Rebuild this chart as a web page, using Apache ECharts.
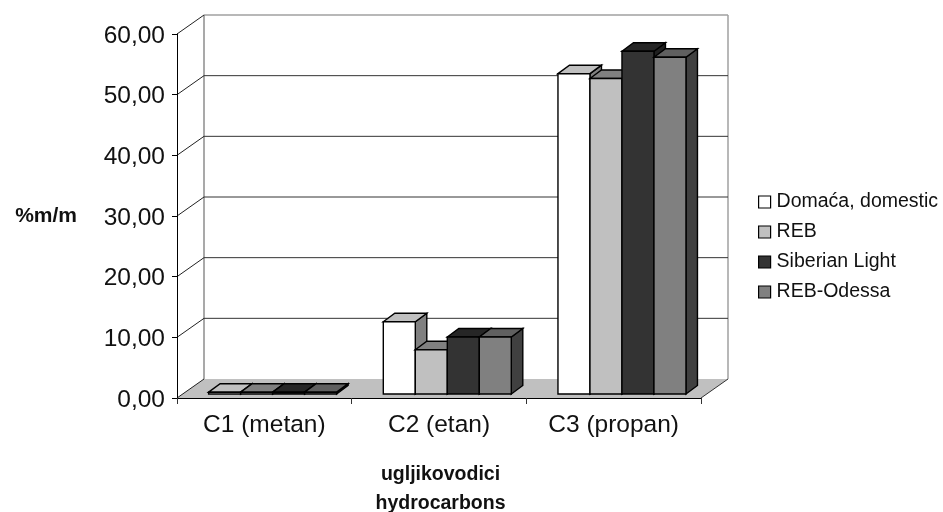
<!DOCTYPE html>
<html><head><meta charset="utf-8">
<style>html,body{margin:0;padding:0;background:#fff}#c{width:943px;height:512px}</style>
<script src="https://cdn.jsdelivr.net/npm/echarts@6/dist/echarts.min.js"></script>
</head><body><div id="c"></div>
<script>
var categories = ['C1 (metan)', 'C2 (etan)', 'C3 (propan)'];
var domestic = [0.3, 11.9, 52.8];
var reb = [0.3, 7.3, 52.0];
var siberian = [0.3, 9.4, 56.5];
var odessa = [0.3, 9.4, 55.5];
var seriesNames = ['Domaća, domestic', 'REB', 'Siberian Light', 'REB-Odessa'];
var yTicks = [0, 10, 20, 30, 40, 50, 60];
var frontColors = ['#ffffff', '#c0c0c0', '#333333', '#808080'];
var topColors = ['#c0c0c0', '#808080', '#262626', '#606060'];
var sideColors = ['#808080', '#606060', '#1f1f1f', '#404040'];
var WALL = {dx: 27, dy: -19};
var BAR = {w: 32, dx: 11.5, dy: -8.5, baseDy: -4, shift: 8.3};
var FONT = '"Liberation Sans", Arial, sans-serif';

var chart = echarts.init(document.getElementById('c'), null, {renderer: 'canvas'});

function poly(pts, fill, stroke, lw) {
  return {type: 'polygon', shape: {points: pts}, silent: true,
    style: {fill: fill, stroke: stroke || 'none', lineWidth: lw || 0, lineJoin: 'miter'}};
}
function line(p, q, stroke, lw) {
  return {type: 'line', shape: {x1: p[0], y1: p[1], x2: q[0], y2: q[1]}, silent: true,
    style: {stroke: stroke, lineWidth: lw}};
}
function renderWalls(params, api) {
  var cs = params.coordSys;
  var L = cs.x, R = cs.x + cs.width;
  var y0 = api.coord([0, 0])[1], yT = api.coord([0, 60])[1];
  var d = WALL;
  return {type: 'group', children: [
    poly([[L + d.dx, yT + d.dy], [R + d.dx, yT + d.dy], [R + d.dx, y0 + d.dy], [L + d.dx, y0 + d.dy]], '#ffffff'),
    poly([[L, y0], [L + d.dx, y0 + d.dy], [R + d.dx, y0 + d.dy], [R, y0]], '#c0c0c0'),
    line([L + d.dx, yT + d.dy], [R + d.dx, yT + d.dy], '#a0a0a0', 1.5),
    line([R + d.dx, yT + d.dy], [R + d.dx, y0 + d.dy], '#a0a0a0', 1.5),
    line([L + d.dx, yT + d.dy], [L + d.dx, y0 + d.dy], '#707070', 1.2),
    line([R, y0], [R + d.dx, y0 + d.dy], '#333333', 1)
  ]};
}
function renderGrid(params, api) {
  var cs = params.coordSys;
  var L = cs.x, R = cs.x + cs.width;
  var y = api.coord([0, api.value(0)])[1];
  var d = WALL;
  var items = [line([L, y], [L + d.dx, y + d.dy], '#222222', 1)];
  if (api.value(0) > 0 && api.value(0) < 60) {
    items.push(line([L + d.dx, y + d.dy], [R + d.dx, y + d.dy], '#333333', 1));
  }
  return {type: 'group', children: items};
}
function renderBar(si) {
  return function (params, api) {
    var c = api.coord([api.value(0), 0]);
    var top = api.coord([api.value(0), api.value(1)]);
    var b = BAR;
    var x0 = c[0] + b.shift + (si - 2) * b.w, x1 = x0 + b.w;
    var yb = c[1] + b.baseDy, yt = top[1] + b.baseDy;
    var st = '#000000', lw = 1.4;
    return {type: 'group', children: [
      poly([[x1, yb], [x1 + b.dx, yb + b.dy], [x1 + b.dx, yt + b.dy], [x1, yt]], sideColors[si], st, lw),
      poly([[x0, yt], [x0 + b.dx, yt + b.dy], [x1 + b.dx, yt + b.dy], [x1, yt]], topColors[si], st, lw),
      poly([[x0, yb], [x1, yb], [x1, yt], [x0, yt]], frontColors[si], st, lw)
    ]};
  };
}
function barSeries(si, values) {
  return {
    type: 'custom', name: seriesNames[si], coordinateSystem: 'cartesian2d', z: 5 + si,
    itemStyle: {color: frontColors[si]}, renderItem: renderBar(si), clip: false, silent: true,
    encode: {x: 0, y: 1},
    data: values.map(function (v, i) { return [i, v]; })
  };
}

chart.setOption({
  animation: false,
  backgroundColor: '#ffffff',
  textStyle: {fontFamily: FONT},
  grid: {left: 177, right: 242, top: 34, bottom: 114, containLabel: false, outerBoundsMode: 'none'},
  legend: {
    data: seriesNames, orient: 'vertical', left: 758, top: 192, itemWidth: 12, itemHeight: 12, itemGap: 10,
    icon: 'rect', selectedMode: false, padding: 0,
    itemStyle: {borderColor: '#000000', borderWidth: 1.2},
    textStyle: {fontFamily: FONT, fontSize: 19.5, color: '#111111', height: 20, lineHeight: 20, padding: [0, 0, 0, 1]}
  },
  xAxis: {
    type: 'category', data: categories, boundaryGap: true, z: 4,
    axisLine: {show: true, lineStyle: {color: '#000000', width: 1}},
    axisTick: {show: true, length: 6, lineStyle: {color: '#333333', width: 1}},
    axisLabel: {fontFamily: FONT, fontSize: 24.5, color: '#111111', margin: 15},
    name: 'ugljikovodici\nhydrocarbons', nameLocation: 'middle', nameGap: 62,
    nameTextStyle: {fontFamily: FONT, fontSize: 19.5, fontWeight: 'bold', color: '#111111', lineHeight: 29, padding: [0, 0, 0, 3]}
  },
  yAxis: {
    type: 'value', min: 0, max: 60, interval: 10, z: 4,
    axisLine: {show: true, lineStyle: {color: '#000000', width: 1}},
    axisTick: {show: true, length: 5, lineStyle: {color: '#000000', width: 1}},
    splitLine: {show: false},
    axisLabel: {color: '#111111', margin: 12,
      rich: {t: {fontFamily: FONT, fontSize: 24.5, color: '#111111', padding: [4, 0, 0, 0]}},
      formatter: function (v) { return '{t|' + v.toFixed(2).replace('.', ',') + '}'; }},
    name: '%m/m', nameLocation: 'middle', nameRotate: 0, nameGap: 100,
    nameTextStyle: {fontFamily: FONT, fontSize: 21, fontWeight: 'bold', color: '#111111'}
  },
  series: [
    {type: 'custom', coordinateSystem: 'cartesian2d', z: 1, silent: true, clip: false,
      renderItem: renderWalls, encode: {x: 0, y: 1}, data: [[0, 0]]},
    {type: 'custom', coordinateSystem: 'cartesian2d', z: 2, silent: true, clip: false,
      renderItem: renderGrid, encode: {y: 0}, data: yTicks.map(function (t) { return [t]; })},
    barSeries(0, domestic), barSeries(1, reb), barSeries(2, siberian), barSeries(3, odessa)
  ]
});
</script></body></html>
